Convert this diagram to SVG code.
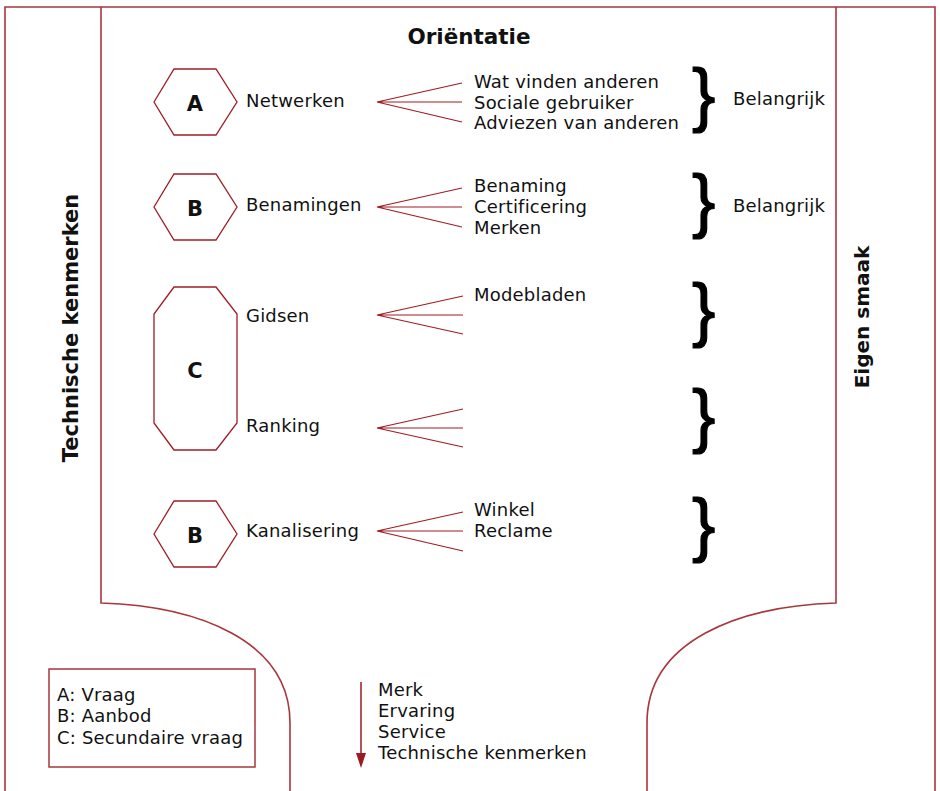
<svg xmlns="http://www.w3.org/2000/svg" width="940" height="791" viewBox="0 0 940 791">
<style>
.frame{fill:none;stroke:#a8363c;stroke-width:1.6}
.shape{fill:#fff;stroke:#a01c24;stroke-width:1.3}
.fan{fill:none;stroke:#a01c24;stroke-width:1.2}
.t{font-family:"DejaVu Sans",Verdana,sans-serif;font-size:18px;letter-spacing:0.2px;fill:#111}
.b{font-family:"DejaVu Sans",Verdana,sans-serif;font-weight:bold;fill:#111}
.lt{font-family:"DejaVu Sans",Verdana,sans-serif;font-weight:bold;font-size:21px;fill:#111;text-anchor:middle}
.br{font-family:"Liberation Sans",Arial,sans-serif;font-size:70px;fill:#000;stroke:#000;stroke-width:1.2}
</style>
<defs>
<marker id="ah" markerWidth="15" markerHeight="10" refX="0" refY="5" orient="auto" markerUnits="userSpaceOnUse" viewBox="0 0 15 10">
<path d="M0,0 L15,5 L0,10 Z" fill="#9b1b22"/>
</marker>
</defs>
<rect width="940" height="791" fill="#fff"/>
<g id="frame">
<path class="frame" d="M5,791 V7 H935 V791"/>
<path class="frame" d="M101,7 V603 C197,606 290,640 290,723 V791"/>
<path class="frame" d="M836,7 V603 C740,606 647,640 647,723 V791"/>
</g>
<text class="b" x="469" y="44" font-size="21.5" text-anchor="middle">Oriëntatie</text>
<text class="b" font-size="21" text-anchor="middle" transform="translate(78,328) rotate(-90)">Technische kenmerken</text>
<text class="b" font-size="20" text-anchor="middle" transform="translate(869,317) rotate(-90)">Eigen smaak</text>

<g id="nodeA">
<polygon class="shape" points="154,102 174,69 216,69 237,102 216,135 174,135"/>
<text class="lt" x="195" y="111">A</text>
</g>
<g id="nodeB1">
<polygon class="shape" points="154,207 174,174 216,174 237,207 216,240 174,240"/>
<text class="lt" x="195" y="216">B</text>
</g>
<g id="nodeC">
<polygon class="shape" points="174,287 216,287 237,314 237,423 216,450 174,450 154,423 154,314"/>
<text class="lt" x="195" y="378">C</text>
</g>
<g id="nodeB2">
<polygon class="shape" points="154,534 174,501 216,501 237,534 216,567 174,567"/>
<text class="lt" x="195" y="543">B</text>
</g>

<g id="labels">
<text class="t" x="246" y="107">Netwerken</text>
<text class="t" x="246" y="211">Benamingen</text>
<text class="t" x="246" y="322">Gidsen</text>
<text class="t" x="246" y="432">Ranking</text>
<text class="t" x="246" y="537">Kanalisering</text>
</g>

<g id="connectors">
<path class="fan" d="M462,83 L377,102 L462,122 M377,102 H462"/>
<path class="fan" d="M462,188 L377,207 L462,227 M377,207 H462"/>
<path class="fan" d="M463,296 L377,315 L463,334 M377,315 H463"/>
<path class="fan" d="M463,409 L377,428 L463,447 M377,428 H463"/>
<path class="fan" d="M463,512 L377,531 L463,551 M377,531 H463"/>
<line x1="361" y1="682" x2="361" y2="753" stroke="#9b1b22" stroke-width="1.5" marker-end="url(#ah)"/>
</g>

<g id="items">
<text class="t" x="474" y="88">Wat vinden anderen</text>
<text class="t" x="474" y="108.5">Sociale gebruiker</text>
<text class="t" x="474" y="129">Adviezen van anderen</text>
<text class="t" x="474" y="192">Benaming</text>
<text class="t" x="474" y="213">Certificering</text>
<text class="t" x="474" y="234">Merken</text>
<text class="t" x="474" y="301">Modebladen</text>
<text class="t" x="474" y="516">Winkel</text>
<text class="t" x="474" y="537">Reclame</text>
</g>

<g id="braces">
<text class="br" x="692" y="118">}</text>
<text class="br" x="692" y="224">}</text>
<text class="br" x="692" y="333">}</text>
<text class="br" x="692" y="439">}</text>
<text class="br" x="692" y="548">}</text>
<text class="t" x="733" y="105">Belangrijk</text>
<text class="t" x="733" y="212">Belangrijk</text>
</g>

<g id="legend">
<rect x="49" y="669" width="206" height="98" fill="none" stroke="#a8363c" stroke-width="1.5"/>
<text class="t" x="57" y="701">A: Vraag</text>
<text class="t" x="57" y="722">B: Aanbod</text>
<text class="t" x="57" y="744">C: Secundaire vraag</text>
</g>

<g id="order">
<text class="t" x="378" y="696">Merk</text>
<text class="t" x="378" y="717">Ervaring</text>
<text class="t" x="378" y="738">Service</text>
<text class="t" x="378" y="759">Technische kenmerken</text>
</g>
</svg>
